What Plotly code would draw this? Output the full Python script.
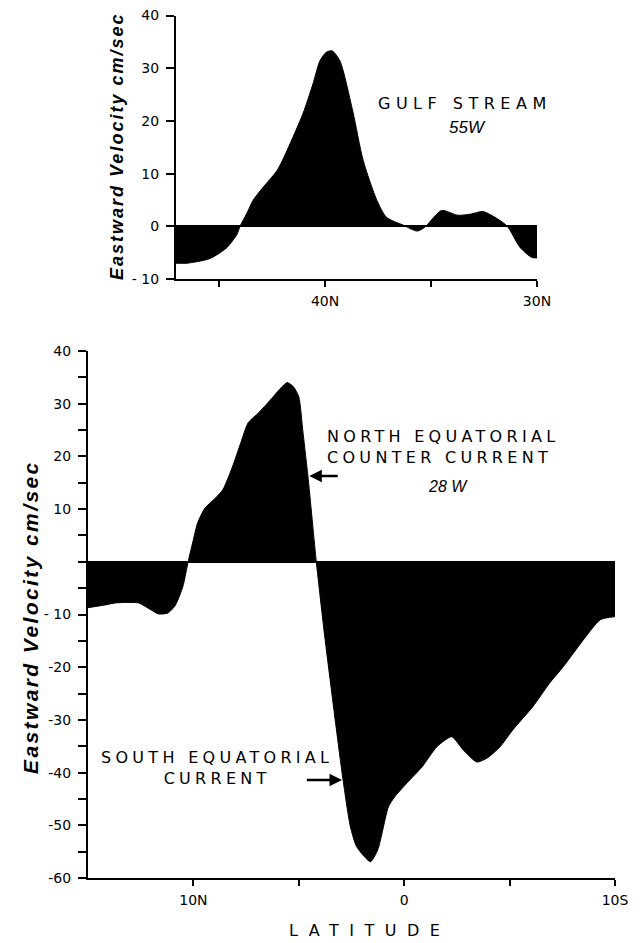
import plotly.graph_objects as go

# ---- Data: Gulf Stream, 55W (latitude N, eastward velocity cm/sec)
lat_gs = [47.03, 46.51, 45.42, 44.62, 44.15, 44.01, 43.68, 43.40, 42.92, 42.26, 41.79,
          41.04, 40.57, 40.24, 39.95, 39.67, 39.3, 38.7, 38.2, 37.55, 37.1, 36.3, 35.65,
          35.3, 34.5, 33.75, 33.15, 32.55, 31.9, 31.4, 30.8, 30.25, 30.0]
vel_gs = [-7.0, -7.0, -6.1, -4.0, -1.5, 0.0, 2.5, 4.9, 7.4, 10.6, 14.4,
          21.4, 27.0, 31.4, 33.0, 33.3, 31.4, 22.0, 12.5, 4.9, 1.7, 0.2, -0.9,
          -0.2, 3.0, 2.1, 2.3, 2.8, 1.5, 0.0, -4.0, -5.9, -6.0]

# ---- Data: Equatorial currents, 28W (latitude, N positive)
lat_eq = [15.0, 14.2, 13.7, 12.6, 12.1, 11.65, 11.2, 10.85, 10.5, 10.25, 10.0, 9.8, 9.45,
          8.95, 8.6, 8.15, 7.75, 7.4, 6.9, 6.35, 5.8, 5.55, 5.25, 5.0, 4.8, 4.55, 4.17,
          3.75, 2.9, 2.55, 2.25, 1.6, 1.25, 0.75, 0.45, -0.15, -0.85, -1.55, -2.25, -2.8,
          -3.45, -3.95, -4.55, -5.15, -6.1, -6.9, -7.55, -8.5, -9.3, -10.0]
vel_eq = [-8.7, -8.2, -7.8, -7.8, -8.9, -9.9, -9.7, -8.2, -4.7, 0.0, 4.2, 7.4, 10.2,
          12.1, 13.7, 18.0, 22.6, 26.4, 28.3, 30.7, 33.2, 34.0, 33.2, 31.3, 24.5, 15.6, 0.0,
          -14.8, -41.4, -50.3, -54.1, -56.9, -54.6, -46.5, -44.6, -41.9, -38.9, -35.1, -33.2, -35.7,
          -38.0, -37.2, -35.1, -31.9, -27.5, -23.0, -19.9, -14.8, -11.0, -10.4]

# ---- Tick labels
gs_xticks = [45, 40, 35, 30]
gs_xtext = ["", "40N", "", "30N"]
gs_yticks = [-10, 0, 10, 20, 30, 40]
gs_ytext = ["- 10", "0", "10", "20", "30", "40"]

eq_xticks = [10, 5, 0, -5, -10]
eq_xtext = ["10N", "", "0", "", "10S"]
eq_yticks = [-60, -50, -40, -30, -20, -10, 0, 10, 20, 30, 40]
eq_ytext = ["-60", "-50", "-40", "-30", "-20", "- 10", "", "10", "20", "30", "40"]

TICKFONT = dict(family="DejaVu Sans", size=14, color="black")
LETTER = "DejaVu Sans"

fig = go.Figure()
fig.add_trace(go.Scatter(
    x=lat_gs, y=vel_gs, xaxis="x", yaxis="y", mode="lines", fill="tozeroy",
    fillcolor="black", line=dict(color="black", width=1, shape="spline", smoothing=0.7),
    hoverinfo="skip", showlegend=False))
fig.add_trace(go.Scatter(
    x=lat_eq, y=vel_eq, xaxis="x2", yaxis="y2", mode="lines", fill="tozeroy",
    fillcolor="black", line=dict(color="black", width=1, shape="spline", smoothing=0.6),
    hoverinfo="skip", showlegend=False))

W, H = 644, 943

def xd(a, b):
    return [a / W, b / W]

def yd(top, bottom):
    return [1 - bottom / H, 1 - top / H]

axis_common = dict(showgrid=False, showline=True, linecolor="black", linewidth=2,
                   ticks="outside", tickcolor="black", tickwidth=1.5, tickfont=TICKFONT,
                   tickmode="array", automargin=False)

fig.update_layout(
    template="none",
    width=W, height=H, autosize=False,
    margin=dict(l=0, r=0, t=0, b=0, pad=0),
    paper_bgcolor="white", plot_bgcolor="white",
    xaxis=dict(domain=xd(176, 537), range=[47.03, 30], anchor="y",
               tickvals=gs_xticks, ticktext=gs_xtext, ticklen=6, zeroline=False,
               ticklabelstandoff=2, **axis_common),
    yaxis=dict(domain=yd(15.5, 279), range=[-10, 40], anchor="x",
               tickvals=gs_yticks, ticktext=gs_ytext, ticklen=8,
               zeroline=True, zerolinecolor="black", zerolinewidth=1.5,
               ticklabelstandoff=4, **axis_common),
    xaxis2=dict(domain=xd(88, 615), range=[15, -10], anchor="y2",
                tickvals=eq_xticks, ticktext=eq_xtext, ticklen=6, zeroline=False,
                ticklabelstandoff=2, **axis_common),
    yaxis2=dict(domain=yd(351, 878), range=[-60, 40], anchor="x2",
                tickvals=eq_yticks, ticktext=eq_ytext, ticklen=8,
                zeroline=True, zerolinecolor="black", zerolinewidth=1.5,
                minor=dict(dtick=5, tick0=0, ticklen=8, tickwidth=1.5, tickcolor="black",
                           ticks="outside"),
                ticklabelstandoff=4, **axis_common),
)

def spaced(txt, ls):
    return f'<span style="letter-spacing:{ls}px">{txt}</span>'

C = dict(xanchor="center", yanchor="middle", showarrow=False)

ann = []
# Y axis titles
ann.append(dict(text=spaced("<b><i>Eastward Velocity cm/sec</i></b>", 2.0),
                xref="paper", yref="paper", x=117 / W, y=1 - 147 / H, textangle=-90,
                font=dict(family="Liberation Sans", size=18, color="black"), **C))
ann.append(dict(text=spaced("<b><i>Eastward Velocity cm/sec</i></b>", 2.4),
                xref="paper", yref="paper", x=30 / W, y=1 - 617 / H, textangle=-90,
                font=dict(family="Liberation Sans", size=21, color="black"), **C))
# Gulf stream labels
ann.append(dict(text=spaced("GULF STREAM", 5.5), xref="x", yref="y", x=33.4, y=23.3,
                font=dict(family=LETTER, size=16, color="black"), **C))
ann.append(dict(text="<i>55W</i>", xref="x", yref="y", x=33.3, y=18.75,
                font=dict(family="Liberation Sans", size=17, color="black"), **C))
# NECC
ann.append(dict(text=spaced("NORTH EQUATORIAL", 4.3) + "<br>" + spaced("COUNTER CURRENT", 4.3),
                xref="x2", yref="y2", x=-1.85, y=21.7, align="left",
                font=dict(family=LETTER, size=16, color="black"), **C))
ann.append(dict(text="<i>28 W</i>", xref="x2", yref="y2", x=-2.09, y=14.2,
                font=dict(family="Liberation Sans", size=16, color="black"), **C))
ann.append(dict(text="", xref="x2", yref="y2", x=4.5, y=16.3, axref="x2", ayref="y2",
                ax=3.08, ay=16.3, showarrow=True, arrowhead=2, arrowsize=1,
                arrowwidth=2.5, arrowcolor="black", standoff=0))
# SEC
ann.append(dict(text=spaced("SOUTH EQUATORIAL", 4.3) + "<br>" + spaced("CURRENT", 4.3),
                xref="x2", yref="y2", x=8.86, y=-39.2, align="center",
                font=dict(family=LETTER, size=16, color="black"), **C))
ann.append(dict(text="", xref="x2", yref="y2", x=2.95, y=-41.4, axref="x2", ayref="y2",
                ax=4.69, ay=-41.4, showarrow=True, arrowhead=2, arrowsize=1,
                arrowwidth=2.5, arrowcolor="black", standoff=0))
# LATITUDE
ann.append(dict(text=spaced("LATITUDE", 10.5), xref="paper", yref="paper",
                x=369 / W, y=1 - 930 / H,
                font=dict(family=LETTER, size=16, color="black"), **C))

fig.update_layout(annotations=ann)
fig.write_html("out.html")
